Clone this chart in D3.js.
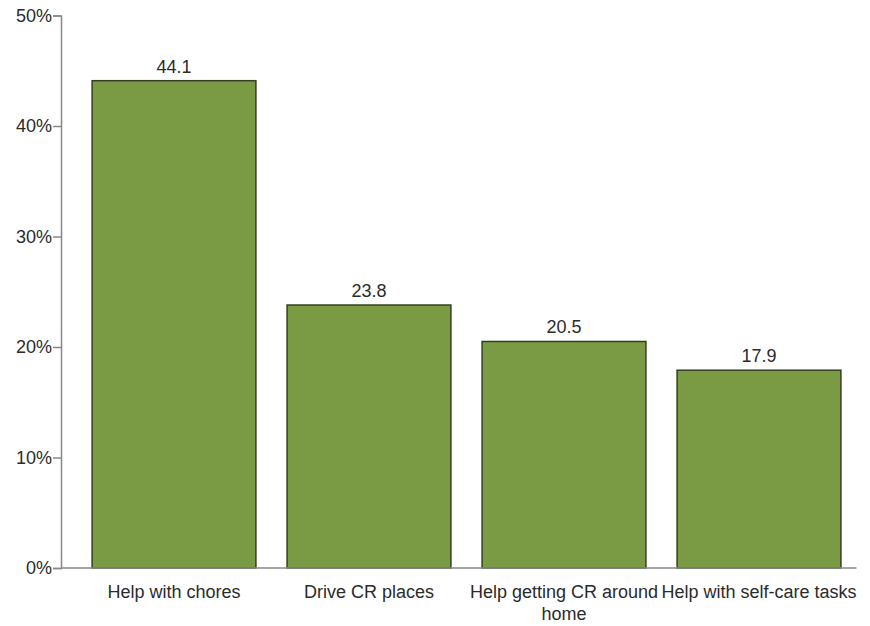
<!DOCTYPE html>
<html><head><meta charset="utf-8">
<script src="https://cdn.jsdelivr.net/npm/d3@7/dist/d3.min.js"></script>
<style>body{margin:0;background:#fff}svg{display:block}text{font-family:"Liberation Sans",Arial,sans-serif;fill:#2b2b2b}</style>
</head><body><svg id="c" width="870" height="626"></svg>
<script>
const categories = ["Help with chores", "Drive CR places", "Help getting CR around home", "Help with self-care tasks"];
const values = [44.1, 23.8, 20.5, 17.9];
const yTicks = [0, 10, 20, 30, 40, 50];

const svg = d3.select("#c");
const FS = 18;
const axisX = 61, yTop = 15.5, yBot = 568, xEnd = 856.5;
const x = d3.scaleBand().domain(categories).range([76.5, 856.5]).paddingInner(0.16).paddingOuter(0.08);
const y = d3.scaleLinear().domain([0, 50]).range([yBot, yTop]);

// bars
svg.selectAll("rect.bar").data(values).join("rect")
  .attr("class", "bar")
  .attr("x", (d, i) => x(categories[i]))
  .attr("y", d => y(d))
  .attr("width", x.bandwidth())
  .attr("height", d => yBot - y(d))
  .attr("fill", "#7a9a44")
  .attr("stroke", "#34401f")
  .attr("stroke-width", 1.5);

// value labels
svg.selectAll("text.val").data(values).join("text")
  .attr("class", "val")
  .attr("x", (d, i) => x(categories[i]) + x.bandwidth() / 2)
  .attr("y", d => y(d) - 8)
  .attr("text-anchor", "middle")
  .attr("font-size", FS)
  .text(d => d.toFixed(1));

// y axis
const yAxis = d3.axisLeft(y).tickValues(yTicks).tickFormat(d => d + "%").tickSize(8).tickPadding(1);
const gy = svg.append("g").attr("transform", `translate(${axisX},0)`).call(yAxis);
gy.select(".domain").attr("stroke", "#888").attr("stroke-width", 1.5);
gy.selectAll(".tick line").attr("stroke", "#888").attr("stroke-width", 1.5);
gy.selectAll(".tick text").attr("font-size", FS).attr("fill", "#2b2b2b").style("font-family", '"Liberation Sans",Arial,sans-serif');

// baseline
svg.append("line").attr("x1", axisX).attr("x2", xEnd).attr("y1", yBot).attr("y2", yBot)
  .attr("stroke", "#888").attr("stroke-width", 1.5);

// category labels with wrapping
function wrapLines(text, maxW, fs) {
  const tmp = svg.append("text").attr("font-size", fs);
  const words = text.split(" ");
  const lines = [];
  let cur = "";
  for (const w of words) {
    const test = cur ? cur + " " + w : w;
    tmp.text(test);
    if (tmp.node().getComputedTextLength() > maxW && cur) { lines.push(cur); cur = w; }
    else cur = test;
  }
  if (cur) lines.push(cur);
  tmp.remove();
  return lines;
}
categories.forEach(c => {
  const lines = wrapLines(c, 205, FS);
  const t = svg.append("text").attr("text-anchor", "middle").attr("font-size", FS);
  lines.forEach((l, i) => {
    t.append("tspan").attr("x", x(c) + x.bandwidth() / 2).attr("y", 598 + i * 22).text(l);
  });
});
</script></body></html>
